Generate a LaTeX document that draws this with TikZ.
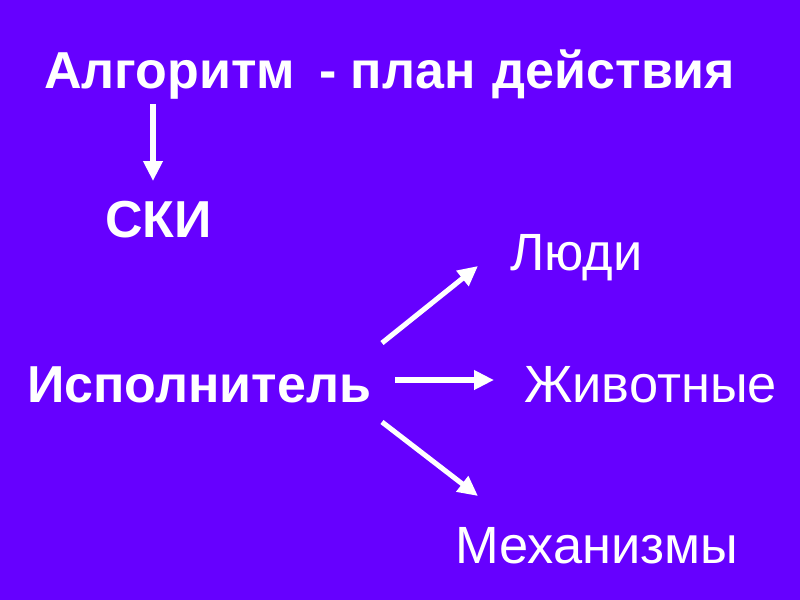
\documentclass[tikz,border=0pt]{standalone}
\usepackage{fontspec}
\setmainfont{Liberation Sans}
\usetikzlibrary{arrows.meta}
\definecolor{bg}{RGB}{102,0,255}
\tikzset{
  lbl/.style={text=white, inner sep=0pt, anchor=base west},
  big/.style={font=\fontsize{39pt}{42pt}\selectfont\bfseries},
  reg/.style={font=\fontsize{39.3pt}{42pt}\selectfont},
  arr/.style={draw=white, line width=3.8pt, -{Triangle[length=15pt,width=14pt]}}
}
\begin{document}
\begin{tikzpicture}[x=0.75pt,y=-0.75pt]
\fill[bg] (0,0) rectangle (800,600);
\useasboundingbox (0,0) rectangle (800,600);
\node[lbl,big] (title) at (44,88) {Алгоритм\ \hspace{7pt}- план\hspace{2pt} действия};
\node[lbl,big] (ski) at (105,237) {СКИ};
\node[lbl,reg] (ludi) at (510,270) {Люди};
\node[lbl,big] (isp) at (27,402) {Исполнитель};
\node[lbl,reg] (zhiv) at (524,402) {Животные};
\node[lbl,reg] (mech) at (455,563) {Механизмы};
\coordinate (d1) at (153,104);
\coordinate (d2) at (153,181);
\coordinate (u1) at (382,343);
\coordinate (u2) at (478,266);
\coordinate (h1) at (395,380);
\coordinate (h2) at (494,380);
\coordinate (l1) at (382,422);
\coordinate (l2) at (478,496);
\draw[arr] (d1) -- (d2);
\draw[arr] (u1) -- (u2);
\draw[arr] (h1) -- (h2);
\draw[arr] (l1) -- (l2);
\end{tikzpicture}
\end{document}
